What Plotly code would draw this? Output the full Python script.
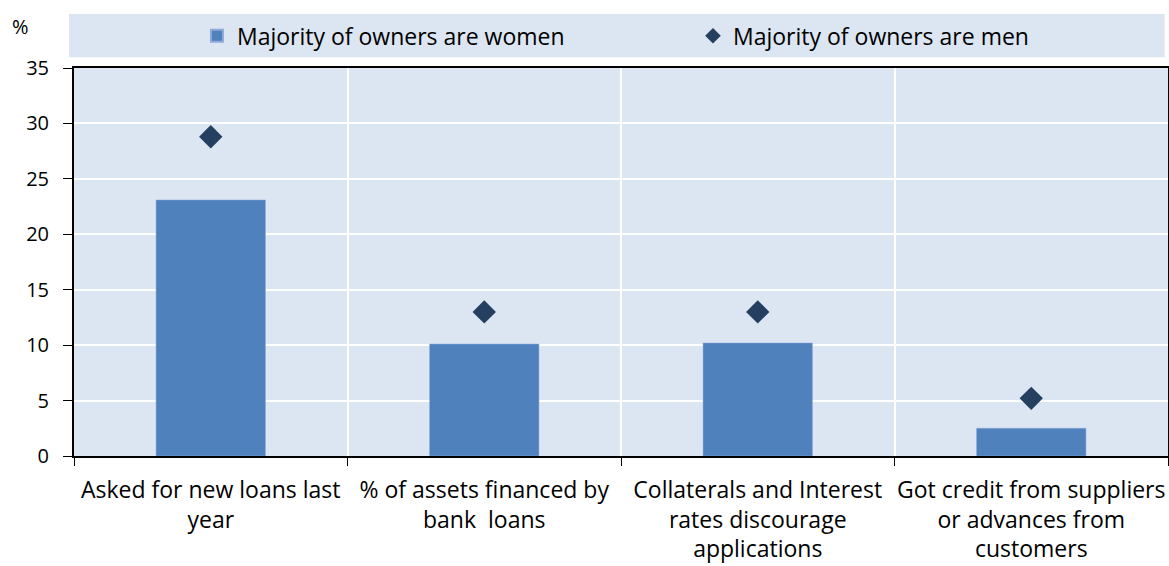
import plotly.graph_objects as go

# Survey indicators by ownership of the firm
categories = [
    "Asked for new loans last<br>year",
    "% of assets financed by<br>bank  loans",
    "Collaterals and Interest<br>rates discourage<br>applications",
    "Got credit from suppliers<br>or advances from<br>customers",
]
women = [23.1, 10.1, 10.2, 2.5]
men = [28.8, 13.0, 13.0, 5.2]
y_ticks = [0, 5, 10, 15, 20, 25, 30, 35]

FONT = "'Open Sans', Lato, sans-serif"
BG = "#DCE6F2"

fig = go.Figure()
fig.add_trace(go.Bar(
    x=categories, y=women, name="Majority of owners are women",
    marker=dict(color="#4F81BD", line=dict(color="#8EAADB", width=0.5)),
    width=0.4, legend="legend", showlegend=True,
))
fig.add_trace(go.Scatter(
    x=categories, y=men, name="Majority of owners are men", mode="markers",
    marker=dict(symbol="diamond", size=18, color="#243F60"),
    legend="legend2", showlegend=True,
))

# Band behind the legend entries
fig.add_shape(type="rect", xref="paper", yref="paper",
              x0=-0.0046, x1=0.997, y0=1.028, y1=1.139,
              fillcolor=BG, line=dict(width=0), layer="below")

fig.add_annotation(text="%", xref="paper", yref="paper", x=-0.049, y=1.106,
                   showarrow=False, font=dict(size=20, color="black", family=FONT),
                   xanchor="center", yanchor="middle")

legend_style = dict(orientation="h", y=1.083, xanchor="left", yanchor="middle",
                    bgcolor="rgba(0,0,0,0)", font=dict(size=23, family=FONT),
                    itemsizing="constant", visible=True)

fig.update_layout(
    width=1169, height=566,
    margin=dict(l=74, r=1, t=68, b=110),
    paper_bgcolor="white", plot_bgcolor=BG,
    font=dict(family=FONT, size=23, color="black"),
    showlegend=True,
    bargap=0.6,
    legend=dict(x=0.1124, **legend_style),
    legend2=dict(x=0.5658, **legend_style),
    xaxis=dict(type="category", tickson="boundaries", ticks="outside", ticklen=8,
               tickcolor="black", showgrid=True, gridcolor="white", gridwidth=2,
               showline=True, linecolor="black", linewidth=2, mirror=True,
               tickangle=0, automargin=False,
               ticklabelstandoff=12, tickfont=dict(size=23, family=FONT)),
    yaxis=dict(range=[0, 35], tickvals=y_ticks, ticks="outside", ticklen=9,
               tickcolor="black", showgrid=True, gridcolor="white", gridwidth=2,
               showline=True, linecolor="black", linewidth=2, mirror=True,
               automargin=False,
               zeroline=False, ticklabelstandoff=10, tickfont=dict(size=20, family=FONT)),
)

fig.write_html("out.html")
